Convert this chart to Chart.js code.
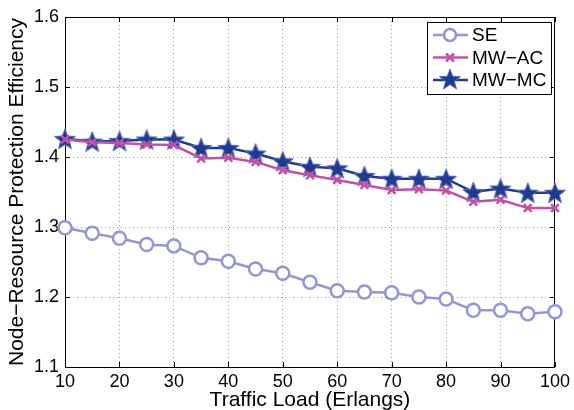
<!DOCTYPE html>
<html>
<head>
<meta charset="utf-8">
<script src="https://cdn.jsdelivr.net/npm/chart.js@4/dist/chart.umd.min.js"></script>
<style>
  html, body { margin: 0; padding: 0; background: #fff; }
  #wrap { width: 574px; height: 410px; }
</style>
</head>
<body>
<div id="wrap"><canvas id="LoadChart" width="574" height="410"></canvas></div>
<script>
const loads = [10, 15, 20, 25, 30, 35, 40, 45, 50, 55, 60, 65, 70, 75, 80, 85, 90, 95, 100];
const seValues = [1.299, 1.291, 1.284, 1.275, 1.273, 1.256, 1.251, 1.240, 1.234, 1.221, 1.209, 1.207, 1.206, 1.200, 1.197, 1.181, 1.181, 1.176, 1.179];
const mwacValues = [1.425, 1.421, 1.420, 1.418, 1.417, 1.398, 1.399, 1.393, 1.381, 1.374, 1.367, 1.360, 1.353, 1.354, 1.352, 1.336, 1.339, 1.327, 1.327];
const mwmcValues = [1.426, 1.422, 1.423, 1.425, 1.425, 1.413, 1.413, 1.405, 1.394, 1.386, 1.384, 1.373, 1.369, 1.369, 1.369, 1.350, 1.355, 1.349, 1.349];
const seriesNames = ["SE", "MW\u2212AC", "MW\u2212MC"];

const FONT = "'Liberation Sans', Arial, sans-serif";
const seColor = "#9595d3";
const acColor = "#c052a6";
const mcColor = "#1f3a8f";

// filled star marker, drawn once and reused as point image
const makeStar = (size) => {
  const c = document.createElement("canvas");
  c.width = size;
  c.height = size;
  const g = c.getContext("2d");
  const r = size / 2 - 1, ri = r * 0.42, cx = size / 2, cy = size / 2 + 1;
  g.beginPath();
  for (let i = 0; i < 10; i++) {
    const rad = i % 2 === 0 ? r : ri;
    const a = -Math.PI / 2 + i * Math.PI / 5;
    g.lineTo(cx + rad * Math.cos(a), cy + rad * Math.sin(a));
  }
  g.closePath();
  g.fillStyle = mcColor;
  g.fill();
  g.strokeStyle = "#5a6cc0";
  g.lineWidth = 1;
  g.stroke();
  return c;
};
const starImg = makeStar(24);

const toPoints = (vals) => vals.map((v, i) => ({ x: loads[i], y: v }));

const framePlugin = {
  id: "frame",
  beforeDatasetsDraw(chart) {
    const { ctx, chartArea: a, scales } = chart;
    ctx.save();
    ctx.strokeStyle = "#000";
    ctx.lineWidth = 1;
    ctx.strokeRect(a.left + 0.5, a.top + 0.5, a.right - a.left - 1, a.bottom - a.top);
    ctx.beginPath();
    scales.x.ticks.forEach((t) => {
      const px = Math.round(scales.x.getPixelForValue(t.value)) + 0.5;
      ctx.moveTo(px, a.bottom); ctx.lineTo(px, a.bottom - 5);
      ctx.moveTo(px, a.top); ctx.lineTo(px, a.top + 5);
    });
    scales.y.ticks.forEach((t) => {
      const py = Math.round(scales.y.getPixelForValue(t.value)) + 0.5;
      ctx.moveTo(a.left, py); ctx.lineTo(a.left + 5, py);
      ctx.moveTo(a.right, py); ctx.lineTo(a.right - 5, py);
    });
    ctx.stroke();
    ctx.restore();
  },
  afterDraw(chart) {
    const ctx = chart.ctx;
    const bx = 427, by = 22, bw = 124, bh = 72;
    ctx.save();
    ctx.fillStyle = "#fff";
    ctx.fillRect(bx, by, bw, bh);
    ctx.strokeStyle = "#000";
    ctx.lineWidth = 1;
    ctx.strokeRect(bx + 0.5, by + 0.5, bw, bh);
    chart.data.datasets.forEach((ds, i) => {
      const y = 35 + i * 22.5;
      ctx.strokeStyle = ds.borderColor;
      ctx.lineWidth = 2.5;
      ctx.beginPath();
      ctx.moveTo(433, y);
      ctx.lineTo(468, y);
      ctx.stroke();
      if (i === 0) {
        ctx.fillStyle = "#fff";
        ctx.beginPath();
        ctx.arc(450, y, 6, 0, Math.PI * 2);
        ctx.fill();
        ctx.stroke();
      } else if (i === 1) {
        ctx.beginPath();
        ctx.moveTo(446, y - 4); ctx.lineTo(454, y + 4);
        ctx.moveTo(454, y - 4); ctx.lineTo(446, y + 4);
        ctx.stroke();
      } else {
        ctx.drawImage(starImg, 450 - 12, y - 13);
      }
      ctx.fillStyle = "#000";
      ctx.font = "19px " + FONT;
      ctx.textBaseline = "middle";
      ctx.textAlign = "left";
      ctx.fillText(ds.label, 472, y + 1);
    });
    ctx.restore();
  },
};

new Chart(document.getElementById("LoadChart").getContext("2d"), {
  type: "line",
  data: {
    datasets: [
      {
        label: seriesNames[0],
        data: toPoints(seValues),
        borderColor: seColor,
        backgroundColor: "#fff",
        borderWidth: 2.5,
        pointStyle: "circle",
        pointRadius: 6.5,
        pointBorderWidth: 2.5,
        clip: false,
      },
      {
        label: seriesNames[1],
        data: toPoints(mwacValues),
        borderColor: acColor,
        backgroundColor: acColor,
        borderWidth: 2.5,
        pointStyle: "crossRot",
        pointRadius: 5.5,
        pointBorderWidth: 2.5,
        clip: false,
      },
      {
        label: seriesNames[2],
        data: toPoints(mwmcValues),
        borderColor: mcColor,
        backgroundColor: mcColor,
        borderWidth: 2.5,
        pointStyle: starImg,
        clip: false,
      },
    ],
  },
  options: {
    responsive: false,
    animation: false,
    layout: { padding: { top: 17, right: 16, left: 0, bottom: 0 } },
    plugins: { legend: { display: false }, tooltip: { enabled: false } },
    scales: {
      x: {
        type: "linear",
        min: 10,
        max: 100,
        afterFit: (s) => { s.height = 43; },
        ticks: { stepSize: 10, padding: 4, color: "#000", font: { family: FONT, size: 18 } },
        grid: { color: "#9a9a9a", drawTicks: false, lineWidth: 1 },
        border: { display: false, dash: [1, 3] },
        title: {
          display: true,
          text: "Traffic Load (Erlangs)",
          color: "#000",
          font: { family: FONT, size: 21 },
          padding: { top: 0, bottom: -3 },
        },
      },
      y: {
        min: 1.1,
        max: 1.6,
        afterFit: (s) => { s.width = 65; },
        ticks: {
          stepSize: 0.1,
          padding: 6,
          color: "#000",
          font: { family: FONT, size: 18 },
          callback: (v) => v.toFixed(1),
        },
        grid: { color: "#9a9a9a", drawTicks: false, lineWidth: 1 },
        border: { display: false, dash: [1, 3] },
        title: {
          display: true,
          text: "Node\u2212Resource Protection Efficiency",
          color: "#000",
          font: { family: FONT, size: 21 },
          padding: { top: 5, bottom: 0 },
        },
      },
    },
  },
  plugins: [framePlugin],
});
</script>
</body>
</html>
